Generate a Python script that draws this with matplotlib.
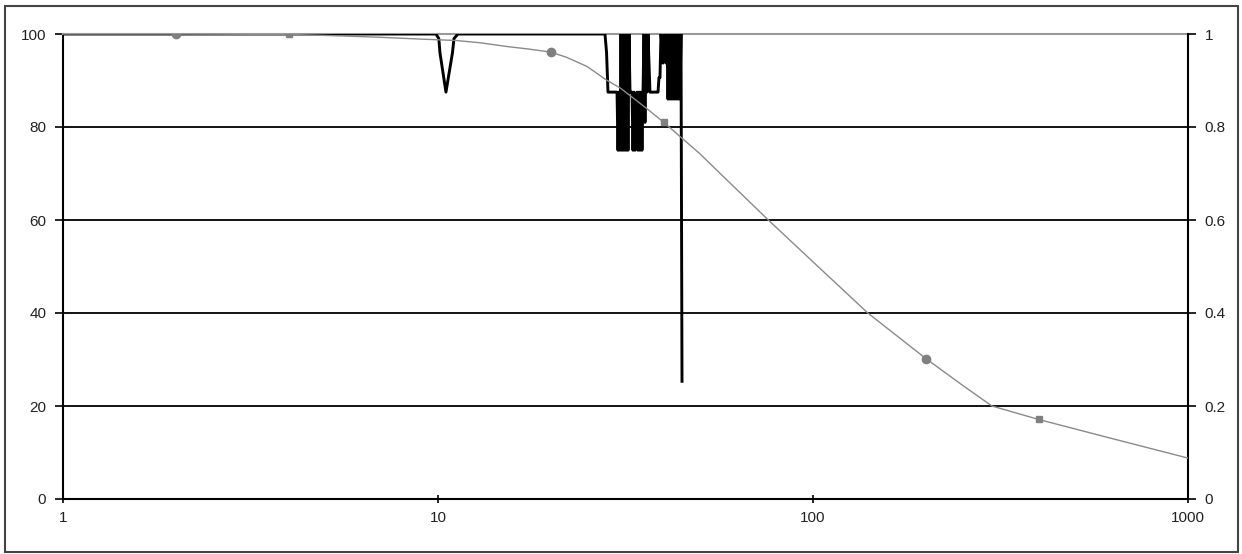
import matplotlib
matplotlib.use("Agg")
import matplotlib.pyplot as plt
from matplotlib.patches import Rectangle
from matplotlib.ticker import FixedLocator, FixedFormatter, NullLocator

plt.rcParams['font.family'] = ['Liberation Sans', 'DejaVu Sans']

# Black series (left axis, 0-100)
black_x = [1, 9.88, 10.05, 10.12, 10.5, 10.93, 11.03, 11.3, 27.88, 28.15, 28.40, 30.02,
           30.20, 30.38, 30.57, 30.76, 30.95, 31.14, 31.33, 31.52, 31.72, 31.91, 32.11, 32.31,
           32.51, 32.91, 33.11, 33.32, 33.52, 33.73, 33.94, 34.15, 34.36, 34.57, 34.78, 34.99,
           35.21, 35.43, 35.64, 35.86, 36.08, 36.31, 36.53, 36.75, 38.61, 38.84, 39.08, 39.32,
           39.57, 39.81, 40.06, 40.30, 40.55, 40.80, 41.05, 41.31, 41.56, 41.81, 42.07, 42.33,
           42.59, 42.86, 43.12, 43.39, 43.65, 43.92, 44.19, 44.46, 44.74]
black_y = [100, 100, 99, 96, 87.5, 96, 99, 100, 100, 96, 87.5, 87.5,
           75, 87.5, 75, 100, 75, 100, 75, 100, 75, 100, 75, 100,
           87.5, 87.5, 75, 87.5, 75, 81, 87.5, 75, 87.5, 75, 87.5, 75,
           87.5, 100, 81, 100, 87.5, 100, 93.75, 87.5, 87.5, 90.6, 90.6, 100,
           97.5, 93.75, 97.5, 100, 93.75, 100, 86, 100, 86, 100, 86, 100,
           86, 100, 86, 100, 86, 100, 86, 100, 25]

# Gray smooth series (right axis, 0-1)
gray_x = [1, 2, 4, 5, 7, 9, 11.2, 13, 15.3, 17.3, 20, 22, 25, 28, 30.6, 36, 40, 50, 60,
          76, 100, 140, 200, 250, 300, 400, 600, 1000]
gray_y = [1.0, 1.0, 0.999, 0.997, 0.993, 0.989, 0.986, 0.981, 0.973, 0.968, 0.961, 0.95,
          0.93, 0.902, 0.884, 0.84, 0.81, 0.742, 0.68, 0.60, 0.51, 0.40, 0.302, 0.245,
          0.20, 0.171, 0.134, 0.088]

circle_x = [2, 20, 200]
circle_y = [1.0, 0.961, 0.302]
square_x = [4, 40, 400]
square_y = [0.999, 0.81, 0.171]

left_ticks = [0, 20, 40, 60, 80, 100]
right_ticks = [0, 0.2, 0.4, 0.6, 0.8, 1]
right_labels = ['0', '0.2', '0.4', '0.6', '0.8', '1']
x_ticks = [1, 10, 100, 1000]
x_labels = ['1', '10', '100', '1000']

W, H = 1242, 554
fig = plt.figure(figsize=(W / 100, H / 100), dpi=100)
fig.patch.set_facecolor('white')

# outer frame
fig.patches.append(Rectangle((5 / W, 2 / H), (1238 - 5) / W, (548 - 2) / H,
                             transform=fig.transFigure, fill=False,
                             edgecolor='#444444', linewidth=1.5))

ax = fig.add_axes([63 / W, (H - 499) / H, (1188 - 63) / W, (499 - 34) / H])
ax.set_xscale('log')
ax.set_xlim(1, 1000)
ax.set_ylim(0, 100)

for v in left_ticks[1:-1]:
    ax.axhline(v, color='black', linewidth=1.3, zorder=1)

ax.plot(black_x, black_y, color='black', linewidth=2.1, zorder=3,
        solid_joinstyle='round', solid_capstyle='butt')

ax.xaxis.set_major_locator(FixedLocator(x_ticks))
ax.xaxis.set_major_formatter(FixedFormatter(x_labels))
ax.xaxis.set_minor_locator(NullLocator())
ax.yaxis.set_major_locator(FixedLocator(left_ticks))
ax.tick_params(axis='x', direction='inout', length=6, width=1.2, labelsize=11,
               labelcolor='#222222', pad=6)
ax.tick_params(axis='y', direction='out', length=6, width=1.2, labelsize=11,
               labelcolor='#222222', pad=6)

for s in ['left', 'bottom']:
    ax.spines[s].set_linewidth(1.5)
    ax.spines[s].set_color('black')
ax.spines['top'].set_color('#999999')
ax.spines['top'].set_linewidth(1.5)
ax.spines['right'].set_visible(False)

ax2 = ax.twinx()
ax2.set_ylim(0, 1)
ax2.plot(gray_x, gray_y, color='#8a8a8a', linewidth=1.0, zorder=4)
ax2.plot(circle_x, circle_y, linestyle='none', marker='o', markersize=6,
         color='#808080', zorder=5)
ax2.plot(square_x, square_y, linestyle='none', marker='s', markersize=5,
         color='#808080', zorder=5)
ax2.yaxis.set_major_locator(FixedLocator(right_ticks))
ax2.yaxis.set_major_formatter(FixedFormatter(right_labels))
ax2.tick_params(axis='y', direction='out', length=6, width=1.2, labelsize=11,
                labelcolor='#222222', pad=6)
ax2.spines['right'].set_linewidth(1.5)
ax2.spines['right'].set_color('black')
for s in ['left', 'bottom', 'top']:
    ax2.spines[s].set_visible(False)

fig.savefig('out.png', dpi=100, facecolor='white')
